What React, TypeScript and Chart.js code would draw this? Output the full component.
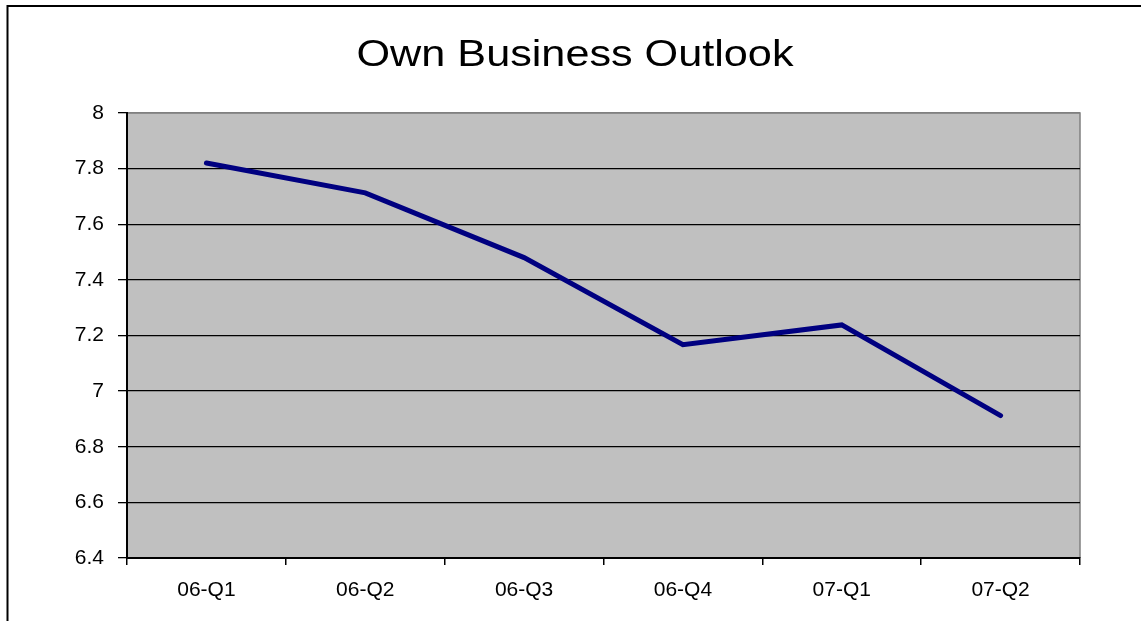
import React, { useEffect, useRef } from "react";
import { Chart, registerables } from "chart.js";

Chart.register(...registerables);

const TITLE = "Own Business Outlook";
const categories = ["06-Q1", "06-Q2", "06-Q3", "06-Q4", "07-Q1", "07-Q2"];
const outlookValues = [7.82, 7.713, 7.48, 7.167, 7.238, 6.912];
const yTickValues = [6.4, 6.6, 6.8, 7, 7.2, 7.4, 7.6, 7.8, 8];

const FONT = '"Liberation Sans", Arial, sans-serif';

const decorPlugin = {
  id: "decor",
  beforeDraw(chart: any) {
    const { ctx, chartArea } = chart;
    ctx.save();
    ctx.fillStyle = "#C0C0C0";
    ctx.fillRect(chartArea.left, chartArea.top, chartArea.right - chartArea.left, chartArea.bottom - chartArea.top);
    ctx.strokeStyle = "#808080";
    ctx.lineWidth = 1.5;
    ctx.beginPath();
    ctx.moveTo(chartArea.left, chartArea.top);
    ctx.lineTo(chartArea.right, chartArea.top);
    ctx.lineTo(chartArea.right, chartArea.bottom);
    ctx.stroke();
    ctx.strokeStyle = "#000";
    ctx.lineWidth = 2;
    ctx.beginPath();
    ctx.moveTo(1141, 6);
    ctx.lineTo(7.5, 6);
    ctx.lineTo(7.5, 621);
    ctx.stroke();
    ctx.fillStyle = "#000";
    ctx.font = `36px ${FONT}`;
    ctx.textAlign = "center";
    ctx.textBaseline = "alphabetic";
    ctx.translate(575, 66);
    ctx.scale(1.2, 1);
    ctx.fillText(TITLE, 0, 0);
    ctx.restore();
  },
};

export default function App() {
  const canvasRef = useRef<HTMLCanvasElement | null>(null);

  useEffect(() => {
    if (!canvasRef.current) return;
    const chart = new Chart(canvasRef.current, {
      type: "line",
      data: {
        labels: categories,
        datasets: [
          {
            label: TITLE,
            data: outlookValues,
            borderColor: "#000080",
            backgroundColor: "#000080",
            borderWidth: 5,
            borderCapStyle: "round",
            borderJoinStyle: "miter",
            pointRadius: 0,
            pointHoverRadius: 0,
            tension: 0,
            fill: false,
          },
        ],
      },
      options: {
        animation: false,
        responsive: false,
        maintainAspectRatio: false,
        layout: { padding: { top: 113, right: 61, left: 0, bottom: 0 } },
        plugins: {
          legend: { display: false },
          title: { display: false },
          tooltip: { enabled: false },
        },
        scales: {
          x: {
            type: "category",
            offset: true,
            grid: {
              offset: true,
              drawOnChartArea: false,
              drawTicks: true,
              tickLength: 7,
              color: "#000",
              tickColor: "#000",
              lineWidth: 1.5,
            },
            border: { display: true, color: "#000", width: 2 },
            ticks: {
              color: "#000",
              font: { family: FONT, size: 21 },
              padding: 13,
              maxRotation: 0,
              autoSkip: false,
            },
            afterFit(scale: any) {
              scale.height = 63;
            },
          },
          y: {
            type: "linear",
            min: 6.4,
            max: 8,
            afterBuildTicks(scale: any) {
              scale.ticks = yTickValues.map((v) => ({ value: v }));
            },
            grid: {
              drawTicks: true,
              tickLength: 9,
              color: (ctx: any) => (ctx.tick && Math.abs(ctx.tick.value - 8) < 1e-6 ? "#808080" : "#000"),
              tickColor: "#000",
              lineWidth: 1.3,
            },
            border: { display: true, color: "#000", width: 2 },
            ticks: {
              color: "#000",
              font: { family: FONT, size: 21 },
              padding: 14,
              callback: (v: any) => String(Math.round(Number(v) * 10) / 10),
            },
            afterFit(scale: any) {
              scale.width = 127;
            },
          },
        },
      },
      plugins: [decorPlugin],
    });
    return () => chart.destroy();
  }, []);

  return (
    <div style={{ position: "absolute", left: 0, top: 0, width: 1141, height: 621, background: "#fff" }}>
      <canvas ref={canvasRef} width={1141} height={621} style={{ width: 1141, height: 621, display: "block" }} />
    </div>
  );
}
